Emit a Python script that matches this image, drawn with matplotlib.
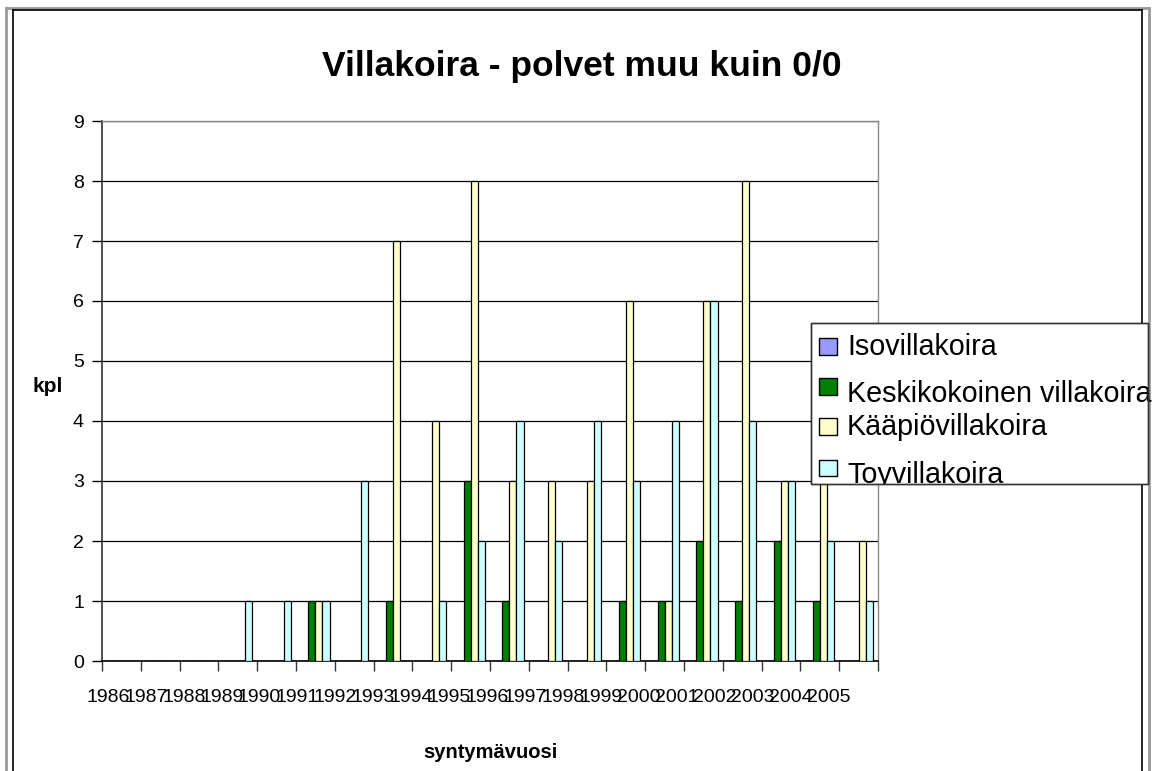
import matplotlib
matplotlib.use("Agg")
import matplotlib.pyplot as plt
from matplotlib.patches import Rectangle
from matplotlib.lines import Line2D
import matplotlib.transforms as mtransforms
import numpy as np

plt.rcParams['font.family'] = ['Liberation Sans', 'DejaVu Sans']

# ---------------- data ----------------
years = [str(y) for y in range(1986, 2006)]
series_names = ["Isovillakoira", "Keskikokoinen villakoira", "Kääpiövillakoira", "Toyvillakoira"]
iso  = [0, 0, 0, 0, 0, 0, 0, 0, 0, 0, 0, 0, 0, 0, 0, 0, 0, 0, 0, 0]
kesk = [0, 0, 0, 0, 0, 1, 0, 1, 0, 3, 1, 0, 0, 1, 1, 2, 1, 2, 1, 0]
kaap = [0, 0, 0, 0, 0, 1, 0, 7, 4, 8, 3, 3, 3, 6, 1, 6, 8, 3, 3, 2]
toy  = [0, 0, 0, 1, 1, 1, 3, 0, 1, 2, 4, 2, 4, 3, 4, 6, 4, 3, 2, 1]
colors = ["#9999FF", "#008000", "#FFFFCC", "#CCFFFF"]
yticks = list(range(0, 10))
title = "Villakoira - polvet muu kuin 0/0"
xlabel = "syntymävuosi"
ylabel = "kpl"

W, H = 1158, 771
fig = plt.figure(figsize=(W / 100, H / 100), dpi=100)

def fx(px):
    return px / W

def fy(py):
    return 1 - py / H

# axes placement (pixels)
axL, axR, axT, axB = 102, 878, 121, 661
ax = fig.add_axes([fx(axL), fy(axB), fx(axR - axL), (axB - axT) / H])

n = len(years)
x = np.arange(n)
w = 1 / 5.5
all_series = [iso, kesk, kaap, toy]
offsets = [-1.5, -0.5, 0.5, 1.5]
for vals, off, col in zip(all_series, offsets, colors):
    ax.bar(x + off * w, vals, width=w, color=col, edgecolor="black", linewidth=0.9, zorder=3)

ax.set_xlim(-0.5, n - 0.5)
ax.set_ylim(0, 9)
ax.set_yticks(yticks)
ax.set_yticklabels([str(v) for v in yticks], fontsize=14)
ax.yaxis.grid(True, color="black", linewidth=0.9, zorder=1)
ax.set_axisbelow(True)
ax.tick_params(axis="y", direction="out", length=7, width=1, pad=6, colors="black")
ax.tick_params(axis="x", direction="out", length=7, width=1, colors="#333333")
ax.set_xticks(np.arange(-0.5, n, 1.0))
ax.set_xticklabels([])

for side in ["top", "right"]:
    ax.spines[side].set_color("#888888")
    ax.spines[side].set_linewidth(1)
ax.spines["left"].set_color("#333333")
ax.spines["left"].set_linewidth(1.2)
ax.spines["bottom"].set_color("black")
ax.spines["bottom"].set_linewidth(1.2)

# category labels (Excel-style cramped placement)
trans = mtransforms.blended_transform_factory(ax.transData, fig.transFigure)
for k, lab in enumerate(years):
    xpos = -0.35 + 0.978 * k
    ax.text(xpos, fy(697), lab, transform=trans, ha="center", va="center",
            fontsize=14, clip_on=False)

# titles
fig.text(fx(582), fy(76), title, ha="center", va="baseline", fontsize=25.5, fontweight="bold")
fig.text(fx(490), fy(752), xlabel, ha="center", va="center", fontsize=14.5, fontweight="bold")
fig.text(fx(48), fy(386), ylabel, ha="center", va="center", fontsize=15, fontweight="bold")

# chart frame (double lines, no bottom edge)
frame_lines = [
    ([6, 6], [8, H], "#999999", 2.0),
    ([6, 1148.5], [8, 8], "#999999", 2.0),
    ([1148.5, 1148.5], [8, H], "#999999", 2.0),
    ([13, 13], [9.5, H], "black", 1.2),
    ([13, 1141.5], [9.5, 9.5], "black", 1.2),
    ([1141.5, 1141.5], [9.5, H], "black", 1.2),
]
for xs, ys, c, lw in frame_lines:
    fig.add_artist(Line2D([fx(v) for v in xs], [fy(v) for v in ys], color=c, linewidth=lw,
                          transform=fig.transFigure))

# legend (manually placed like the original)
lgL, lgR, lgT, lgB = 811, 1148, 323, 484
box = Rectangle((fx(lgL), fy(lgB)), fx(lgR - lgL), (lgB - lgT) / H, transform=fig.transFigure,
                facecolor="white", edgecolor="#333333", linewidth=1.0, zorder=10)
fig.add_artist(box)
sq = [(338, 355), (378, 395), (418, 435), (460, 476)]
baselines = [355, 402, 435, 483]
clip = Rectangle((fx(lgL), fy(lgB)), fx(W - lgL), (lgB - lgT) / H, transform=fig.transFigure,
                 facecolor="none", edgecolor="none")
fig.add_artist(clip)
for name, col, (t, b), bl in zip(series_names, colors, sq, baselines):
    r = Rectangle((fx(819), fy(b)), fx(18), (b - t) / H, transform=fig.transFigure,
                  facecolor=col, edgecolor="black", linewidth=1.0, zorder=11)
    fig.add_artist(r)
    tx = fig.text(fx(847), fy(bl), name, ha="left", va="baseline", fontsize=20.7, zorder=11)
    tx.set_clip_path(clip)
box_edge = Rectangle((fx(lgL), fy(lgB)), fx(lgR - lgL), (lgB - lgT) / H, transform=fig.transFigure,
                     facecolor="none", edgecolor="#333333", linewidth=1.0, zorder=12)
fig.add_artist(box_edge)

fig.savefig("out.png", dpi=100)
